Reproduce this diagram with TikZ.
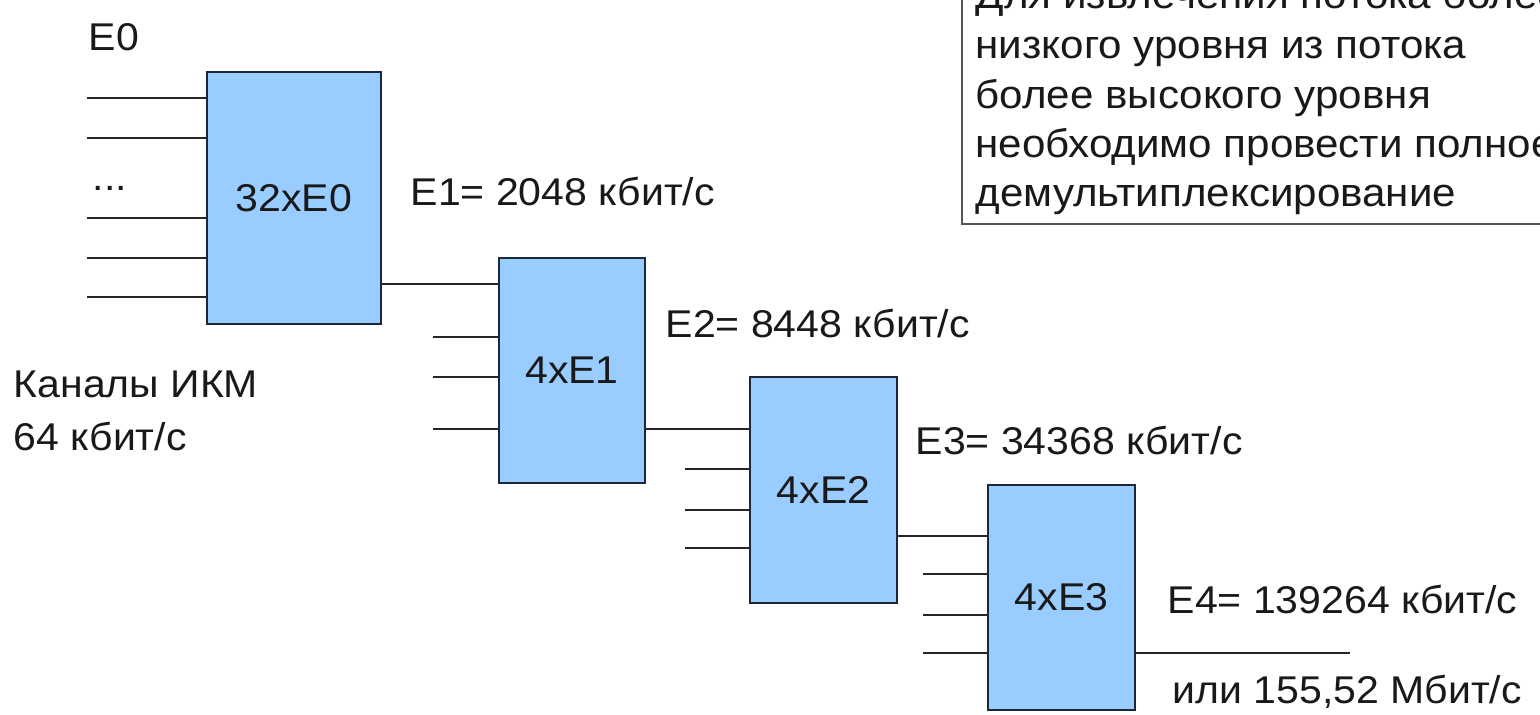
\documentclass[tikz,border=0pt]{standalone}
\usepackage{fontspec}
\setmainfont{Liberation Sans}[FakeStretch=1.06]
\definecolor{boxfill}{HTML}{99CCFF}
\definecolor{boxline}{HTML}{1C2838}
\definecolor{notegray}{HTML}{555555}
\begin{document}
\begin{tikzpicture}[x=0.01cm,y=-0.01cm,
  mux/.style={draw=boxline, fill=boxfill, line width=0.6pt, inner sep=0pt, text=black!90, font=\fontsize{11}{13}\selectfont},
  wire/.style={line width=0.55pt, draw=black!85},
  lbl/.style={anchor=base west, inner sep=0pt, text=black!90, font=\fontsize{11}{13}\selectfont},
  notetxt/.style={anchor=base west, inner sep=0pt, text=black!90, font=\fontsize{11.3}{13}\selectfont}]
\useasboundingbox (0,0) rectangle (1540,714);
\fill[white] (0,0) rectangle (1540,714);

% multiplexer boxes
\node[mux, minimum width=1.74cm, minimum height=2.52cm] (b1) at (294,198) {32xE0};
\node[mux, minimum width=1.46cm, minimum height=2.25cm] (b2) at (572,370.5) {4xE1};
\node[mux, minimum width=1.47cm, minimum height=2.26cm] (b3) at (823.5,490) {4xE2};
\node[mux, minimum width=1.47cm, minimum height=2.25cm] (b4) at (1061.5,597.5) {4xE3};

% inputs of box 1
\foreach \y/\n in {98/a,138/b,218/c,258/d,297/e}
  {\coordinate (i1\n) at (87,\y); \draw[wire] (i1\n) -- (i1\n -| b1.west);}
% inputs of box 2
\foreach \y/\n in {337/a,377/b,429/c}
  {\coordinate (i2\n) at (433,\y); \draw[wire] (i2\n) -- (i2\n -| b2.west);}
% inputs of box 3
\foreach \y/\n in {469/a,510/b,548/c}
  {\coordinate (i3\n) at (685,\y); \draw[wire] (i3\n) -- (i3\n -| b3.west);}
% inputs of box 4
\foreach \y/\n in {574/a,615/b,653/c}
  {\coordinate (i4\n) at (923,\y); \draw[wire] (i4\n) -- (i4\n -| b4.west);}

% links between boxes
\coordinate (o1) at (381,284);
\draw[wire] (o1 -| b1.east) -- (o1 -| b2.west);
\coordinate (o2) at (645,429);
\draw[wire] (o2 -| b2.east) -- (o2 -| b3.west);
\coordinate (o3) at (897,536);
\draw[wire] (o3 -| b3.east) -- (o3 -| b4.west);
\coordinate (o4) at (1350,653);
\draw[wire] (o4 -| b4.east) -- (o4);

% labels
\node[lbl] (tE0) at (88,50) {E0};
\node[lbl] (tdots) at (92,190) {...};
\node[lbl] (tE1) at (410,205) {E1= 2048 кбит/с};
\node[lbl] (tE2) at (665,337) {E2= 8448 кбит/с};
\node[lbl] (tk1) at (13,397) {Каналы ИКМ};
\node[lbl] (tk2) at (13,450) {64 кбит/с};
\node[lbl] (tE3) at (915,454) {E3= 34368 кбит/с};
\node[lbl] (tE4) at (1167,613) {E4= 139264 кбит/с};
\node[lbl] (tE4b) at (1172,703) {или 155,52 Мбит/с};

% note box (clipped at the picture edge)
\begin{scope}
  \clip (0,0) rectangle (1540,714);
  \draw[draw=notegray, fill=white, line width=0.7pt] (962,-60) rectangle (1600,224);
  \node[notetxt] (n1) at (975,8) {Для извлечения потока более};
  \node[notetxt] (n2) at (975,58) {низкого уровня из потока};
  \node[notetxt] (n3) at (975,108) {более высокого уровня};
  \node[notetxt] (n4) at (975,157) {необходимо провести полное};
  \node[notetxt] (n5) at (975,206) {демультиплексирование};
\end{scope}
\end{tikzpicture}
\end{document}
